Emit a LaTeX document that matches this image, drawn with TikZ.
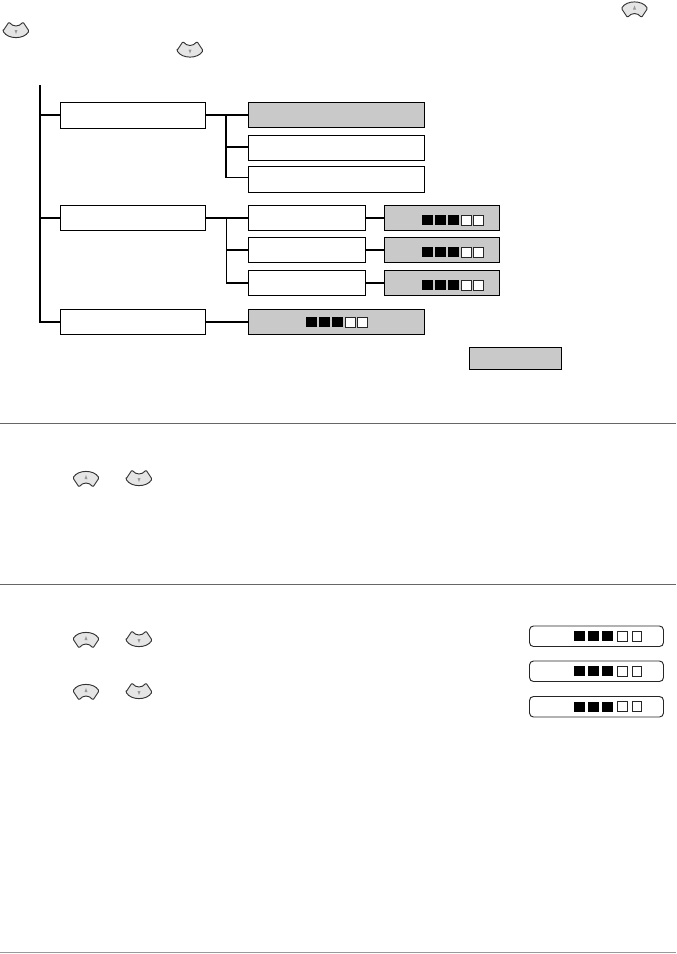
\documentclass[tikz,border=0pt]{standalone}
\tikzset{
  x=0.75pt,y=-0.75pt,
  boxbase/.style={draw=black,line width=0.9pt,inner sep=0pt,outer sep=0pt,rectangle},
  whitebox/.style={boxbase,fill=white},
  graybox/.style={boxbase,fill=black!21},
  lcdbox/.style={draw=black!85,line width=0.7pt,fill=white,rounded corners=3pt,inner sep=0pt,outer sep=0pt,rectangle},
  link/.style={draw=black,line width=1.5pt},
  trunk/.style={draw=black,line width=1.6pt},
  thinlink/.style={draw=black,line width=1pt},
  rulel/.style={draw=black!60,line width=0.6pt},
  fullsq/.style={fill=black},
  opensq/.style={draw=black!85,line width=0.6pt,fill=white},
  btn/.style={draw=black!80,line width=0.7pt,fill=black!10,line join=round,rounded corners=0.8pt},
  btnmark/.style={fill=black!40},
}
\newcommand{\boxat}[6]{%
  \pgfmathsetmacro{\cxv}{(#3+#5)/2}\pgfmathsetmacro{\cyv}{(#4+#6)/2}%
  \pgfmathsetmacro{\wv}{(#5-#3)*0.75}\pgfmathsetmacro{\hv}{(#6-#4)*0.75}%
  \node[#2,minimum width=\wv pt,minimum height=\hv pt] (#1) at (\cxv,\cyv) {};}
% x, top y, pitch of the full squares, offsets of the two open squares
\newcommand{\levelbar}[5]{%
  \foreach \i in {0,1,2}{\fill[fullsq] ({#1+\i*#3},#2) rectangle ++(10.5,10);}
  \draw[opensq] ({#1+#4},#2+.3) rectangle ++(9.6,9.6);
  \draw[opensq] ({#1+#5},#2+.3) rectangle ++(9.6,9.6);}
\newcommand{\upbtn}[2]{%
  \begin{scope}[shift={(#1,#2)}]
    \draw[btn] (-13,-1) .. controls (-8,-9.5) and (8,-9.5) .. (13,-1) -- (7,8)
      .. controls (3,3) and (-3,3) .. (-7,8) -- cycle;
    \fill[btnmark] (-1.5,0) -- (1.5,0) -- (0,-4) -- cycle;
  \end{scope}}
\newcommand{\downbtn}[2]{%
  \begin{scope}[shift={(#1,#2)}]
    \draw[btn] (-13,0) -- (-7,-9) .. controls (-3,-4) and (3,-4) .. (7,-9)
      -- (13,0) .. controls (8,8.5) and (-8,8.5) .. (-13,0) -- cycle;
    \fill[btnmark] (-1.5,-1) -- (1.5,-1) -- (0,3) -- cycle;
  \end{scope}}
\begin{document}
\begin{tikzpicture}
\useasboundingbox (0,0) rectangle (676,954);
\fill[white] (0,0) rectangle (676,954);

% first column
\boxat{a}{whitebox}{60.5}{102.5}{205.5}{128.5}
\boxat{b}{whitebox}{60.5}{205.5}{205.5}{230.5}
\boxat{c}{whitebox}{60.5}{309.5}{205.5}{334.5}
% second column, upper group
\boxat{a1}{graybox}{248.5}{102.5}{424.5}{127.5}
\boxat{a2}{whitebox}{248.5}{135.5}{424.5}{160.5}
\boxat{a3}{whitebox}{248.5}{166.5}{424.5}{192.5}
% second column, middle group
\boxat{b1}{whitebox}{248.5}{205.5}{365.5}{230.5}
\boxat{b2}{whitebox}{248.5}{237.5}{365.5}{262.5}
\boxat{b3}{whitebox}{248.5}{270.5}{365.5}{295.5}
% third column
\boxat{v1}{graybox}{384.5}{205.5}{499.5}{230.5}
\boxat{v2}{graybox}{384.5}{237.5}{499.5}{262.5}
\boxat{v3}{graybox}{384.5}{270.5}{499.5}{295.5}
% lower group and stand-alone key
\boxat{c1}{graybox}{248.5}{309.5}{424.5}{334.5}
\boxat{key}{graybox}{469.5}{347.5}{561.5}{369.5}

% trunk
\coordinate (top) at (40,85);
\coordinate (ja) at (226,115);
\draw[trunk] (top) |- (c.west);
\draw[link] (top |- ja) -- (ja -| a.west);
\draw[link] (top |- b.west) -- (b.west);

% upper group
\coordinate (a2in) at (248.5,146.5);
\coordinate (a3in) at (248.5,177.5);
\draw[link] (ja -| a.east) -- (ja -| a1.west);
\draw[thinlink] (ja) |- (a3in);
\draw[link] (ja |- a2in) -- (a2in);

% middle group
\draw[link] (b.east) -- (b1.west);
\coordinate (jb) at (226.5,218);
\draw[thinlink] (jb) |- (b3.west);
\draw[link] (jb |- b2.west) -- (b2.west);
\draw[link] (jb |- b3.west) -- (b3.west);
\draw[link] (b1.east) -- (v1.west);
\draw[link] (b2.east) -- (v2.west);
\draw[link] (b3.east) -- (v3.west);

% lower group
\draw[link] (c.east) -- (c1.west);

% level bars
\levelbar{422}{215}{13}{39.5}{51.5}
\levelbar{422}{247}{13}{39.5}{51.5}
\levelbar{422}{280}{13}{39.5}{51.5}
\levelbar{306}{317}{13}{39.5}{51.5}

% rules
\draw[rulel] (0,423.5) -- (676,423.5);
\draw[rulel] (0,584.5) -- (676,584.5);
\draw[rulel,draw=black!40] (0,952.5) -- (676,952.5);

% LCD panels
\boxat{l1}{lcdbox}{529.5}{626}{663.5}{646.5}
\boxat{l2}{lcdbox}{529.5}{661}{663.5}{681.5}
\boxat{l3}{lcdbox}{529.5}{696.5}{663.5}{717}
\levelbar{574}{631}{14}{43.5}{58}
\levelbar{574}{666}{14}{43.5}{58}
\levelbar{574}{701.5}{14}{43.5}{58}

% buttons
\upbtn{634.5}{9.5}
\downbtn{16}{31}
\downbtn{190}{50.5}
\upbtn{86}{479}
\downbtn{139}{479}
\upbtn{86}{640}
\downbtn{139}{640}
\upbtn{86}{692}
\downbtn{139}{692}
\end{tikzpicture}
\end{document}
